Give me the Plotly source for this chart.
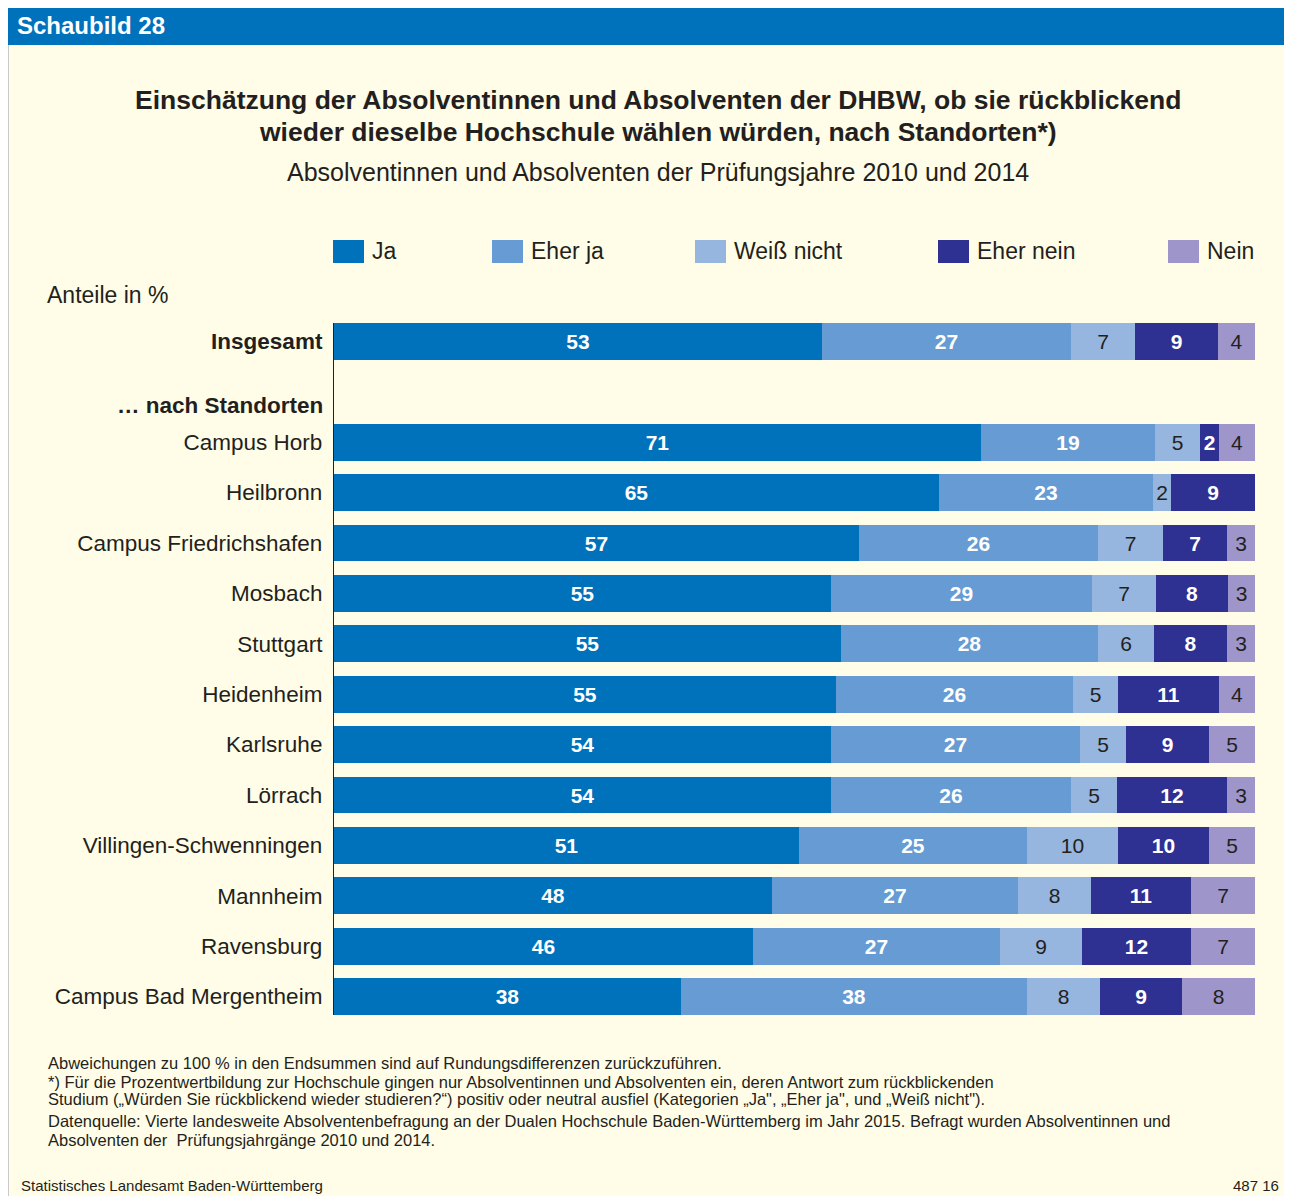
import plotly.graph_objects as go

# ---------------- data ----------------
categories = ["Insgesamt", "", "Campus Horb", "Heilbronn", "Campus Friedrichshafen", "Mosbach",
              "Stuttgart", "Heidenheim", "Karlsruhe", "Lörrach", "Villingen-Schwenningen",
              "Mannheim", "Ravensburg", "Campus Bad Mergentheim"]
series_names = ["Ja", "Eher ja", "Weiß nicht", "Eher nein", "Nein"]
ja         = [53, None, 71, 65, 57, 55, 55, 55, 54, 54, 51, 48, 46, 38]
eher_ja    = [27, None, 19, 23, 26, 29, 28, 26, 27, 26, 25, 27, 27, 38]
weiss      = [7,  None, 5,  2,  7,  7,  6,  5,  5,  5,  10, 8,  9,  8]
eher_nein  = [9,  None, 2,  9,  7,  8,  8,  11, 9,  12, 10, 11, 12, 9]
nein       = [4,  None, 4,  0,  3,  3,  3,  4,  5,  3,  5,  7,  7,  8]
series_values = [ja, eher_ja, weiss, eher_nein, nein]

# ---------------- style ----------------
colors = ["#0071bb", "#669bd3", "#96b5df", "#2e3092", "#9e96ca"]
text_colors = ["white", "white", "#231f20", "white", "#231f20"]
text_bold = [True, True, False, True, False]
DARK = "#231f20"
CREAM = "#fffde7"
FONT = "Liberation Sans, Arial, sans-serif"

# figure sits inside the page's 8px body margin
OX, OY = 8, 8
W, H = 1284, 1188
L, R, T, B = 326, 37, 315, 181
pw, ph = W - L - R, H - T - B

def X(px):  # px in page (screenshot) coordinates
    return (px - OX - L) / pw

def Y(py):
    return (H - B - (py - OY)) / ph

# normalise rows to 100 % (bars in the original span full width)
row_sums = []
for i in range(len(categories)):
    vals = [s[i] for s in series_values]
    row_sums.append(sum(v for v in vals if v is not None) if vals[0] is not None else None)

ypos = list(range(len(categories)))

fig = go.Figure()
for name, vals, col, tcol, bold in zip(series_names, series_values, colors, text_colors, text_bold):
    xs, txt = [], []
    for v, s in zip(vals, row_sums):
        if v is None or s is None:
            xs.append(None)
            txt.append("")
        else:
            xs.append(v / s * 100)
            txt.append(("<b>%d</b>" % v if bold else "%d" % v) if v > 0 else "")
    fig.add_trace(go.Bar(
        y=ypos, x=xs, name=name, orientation="h", width=0.73,
        marker=dict(color=col, line=dict(width=0)),
        text=txt, textposition="inside", insidetextanchor="middle", textangle=0,
        textfont=dict(color=tcol, size=21, family=FONT),
        customdata=vals, hovertemplate=name + ": %{customdata} %<extra></extra>",
        showlegend=False,
    ))

ticktext = []
for i, c in enumerate(categories):
    ticktext.append("<b>%s</b>" % c if i == 0 else c)

fig.update_layout(
    width=W, height=H,
    margin=dict(l=L, r=R, t=T, b=B, pad=0),
    barmode="stack", bargap=0,
    paper_bgcolor=CREAM, plot_bgcolor=CREAM,
    font=dict(family=FONT, color=DARK),
    uniformtext=dict(minsize=21, mode="show"),
    xaxis=dict(range=[0, 100], visible=False, fixedrange=True),
    yaxis=dict(range=[len(categories) - 1 + 0.365, -0.365], tickvals=ypos, ticktext=ticktext,
               showline=True, linecolor=DARK, linewidth=1.2, showgrid=False, zeroline=False,
               ticks="", ticklabelstandoff=6, tickfont=dict(size=22.5, family=FONT, color=DARK)),
)

shapes = []
# header bar
shapes.append(dict(type="rect", xref="paper", yref="paper", x0=X(0), x1=X(1300), y0=Y(45), y1=Y(0),
                   fillcolor="#0071bb", line=dict(width=0)))
# left border
shapes.append(dict(type="line", xref="paper", yref="paper", x0=X(8.5), x1=X(8.5), y0=Y(1200), y1=Y(45),
                   line=dict(color="#c9c9c9", width=1)))

annotations = []
def ann(text, px, py, size, xanchor="left", bold=False, color=DARK, family=FONT):
    annotations.append(dict(text=("<b>%s</b>" % text) if bold else text, xref="paper", yref="paper",
                            x=X(px), y=Y(py), xanchor=xanchor, yanchor="middle", showarrow=False,
                            font=dict(size=size, color=color, family=family)))

ann("Schaubild 28", 15, 26, 24, bold=True, color="white")
ann("Einschätzung der Absolventinnen und Absolventen der DHBW, ob sie rückblickend", 658, 100, 26.5,
    xanchor="center", bold=True)
ann("wieder dieselbe Hochschule wählen würden, nach Standorten*)", 658, 132, 26.5,
    xanchor="center", bold=True)
ann("Absolventinnen und Absolventen der Prüfungsjahre 2010 und 2014", 658, 172, 25, xanchor="center")
ann("Anteile in %", 45, 295, 23)
ann("… nach Standorten", 325, 405, 22.5, xanchor="right", bold=True)

# manual legend
legend_x = [333, 492, 695, 938, 1168]
for name, col, lx in zip(series_names, colors, legend_x):
    shapes.append(dict(type="rect", xref="paper", yref="paper", x0=X(lx), x1=X(lx + 31),
                       y0=Y(263), y1=Y(240), fillcolor=col, line=dict(width=0)))
    ann(name, lx + 37, 251, 23)

# footnotes
FN = 16.5
ann("Abweichungen zu 100 % in den Endsummen sind auf Rundungsdifferenzen zurückzuführen.", 46, 1063, FN)
ann("*) Für die Prozentwertbildung zur Hochschule gingen nur Absolventinnen und Absolventen ein, deren Antwort zum rückblickenden",
    46, 1081.5, FN)
ann("Studium („Würden Sie rückblickend wieder studieren?“) positiv oder neutral ausfiel (Kategorien „Ja\", „Eher ja\", und „Weiß nicht\").",
    46, 1099, FN)
ann("Datenquelle: Vierte landesweite Absolventenbefragung an der Dualen Hochschule Baden-Württemberg im Jahr 2015. Befragt wurden Absolventinnen und",
    46, 1121, FN)
ann("Absolventen der  Prüfungsjahrgänge 2010 und 2014.", 46, 1140, FN)
ann("Statistisches Landesamt Baden-Württemberg", 19, 1185, 15)
ann("487 16", 1281, 1185, 15, xanchor="right")

fig.update_layout(shapes=shapes, annotations=annotations)
fig.write_html("out.html")
